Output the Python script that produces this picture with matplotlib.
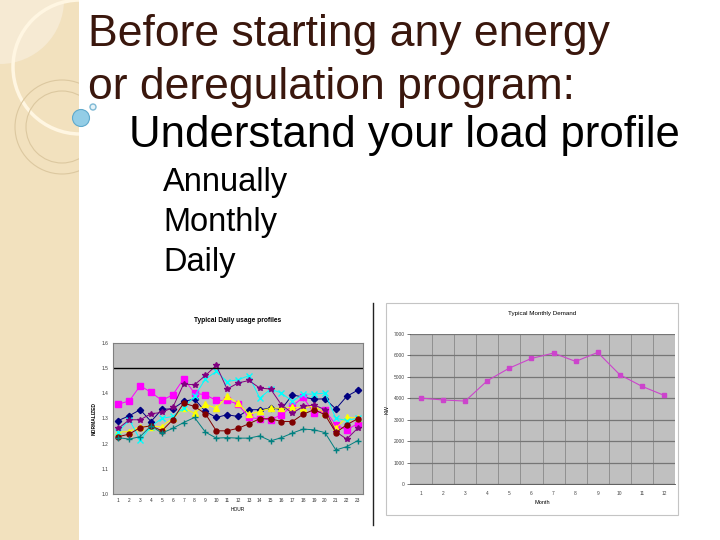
#!/usr/bin/env python3

"""Slide: load profile, with a daily usage chart and a monthly demand chart"""
import matplotlib
matplotlib.use("Agg")
from matplotlib import pyplot as plt
from matplotlib.patches import Rectangle, Circle

plt.rcParams['font.family'] = ['Liberation Sans', 'DejaVu Sans']

# daily profiles, 23 hourly points per series
hours = list(range(1, 24))
hour_labels = [str(h) for h in hours]
navy_vals = [1.292, 1.311, 1.335, 1.288, 1.337, 1.338, 1.368, 1.377, 1.328, 1.304, 1.315, 1.308,
             1.335, 1.335, 1.341, 1.337, 1.394, 1.385, 1.377, 1.378, 1.338, 1.388, 1.412]
magenta_vals = [1.357, 1.370, 1.430, 1.404, 1.372, 1.394, 1.458, 1.401, 1.394, 1.372, 1.372, 1.357,
                1.304, 1.299, 1.295, 1.315, 1.350, 1.384, 1.321, 1.332, 1.275, 1.255, 1.279]
yellow_vals = [1.246, 1.248, 1.268, 1.268, 1.268, 1.301, 1.341, 1.321, 1.357, 1.341, 1.388, 1.361,
               1.317, 1.328, 1.341, 1.341, 1.344, 1.341, 1.350, 1.321, 1.261, 1.305, 1.301]
cyan_vals = [1.248, 1.295, 1.215, 1.268, 1.301, 1.308, 1.341, 1.388, 1.457, 1.487, 1.447, 1.454,
             1.470, 1.381, 1.417, 1.401, 1.368, 1.397, 1.397, 1.401, 1.301, 1.292, 1.301]
purple_vals = [1.261, 1.295, 1.295, 1.319, 1.324, 1.344, 1.437, 1.434, 1.471, 1.511, 1.417, 1.441,
               1.451, 1.421, 1.417, 1.354, 1.321, 1.348, 1.354, 1.335, 1.248, 1.218, 1.261]
maroon_vals = [1.228, 1.238, 1.264, 1.271, 1.251, 1.295, 1.361, 1.348, 1.319, 1.251, 1.251, 1.261,
               1.279, 1.299, 1.299, 1.288, 1.288, 1.317, 1.335, 1.315, 1.244, 1.275, 1.299]
teal_vals = [1.224, 1.218, 1.228, 1.271, 1.242, 1.261, 1.284, 1.304, 1.246, 1.222, 1.224, 1.222,
             1.222, 1.231, 1.211, 1.224, 1.242, 1.258, 1.255, 1.244, 1.175, 1.188, 1.212]
daily_ticks = [1.0, 1.1, 1.2, 1.3, 1.4, 1.5, 1.6]
peak_line = 1.5

# monthly demand
months = list(range(1, 13))
demand_kw = [4010, 3920, 3870, 4820, 5410, 5860, 6110, 5720, 6140, 5100, 4560, 4140]

fig = plt.figure(figsize=(7.2, 5.4), dpi=100)

# slide background, in pixel units
bg = fig.add_axes((0, 0, 1, 1))
bg.set_xlim(0, 720)
bg.set_ylim(540, 0)
bg.axis('off')
band = Rectangle((0, 0), 79, 540, facecolor='#F2E1BE', edgecolor='none')
bg.add_patch(band)
for patch in [Circle((0, 0), 64, facecolor='#F6EAD3', edgecolor='none'),
              Circle((80, 67), 67, facecolor='none', edgecolor='#FFF6E2', lw=2.5),
              Circle((62, 127), 47, facecolor='none', edgecolor='#DCC8A0', lw=0.8),
              Circle((62, 127), 36, facecolor='none', edgecolor='#DCC8A0', lw=0.8)]:
    bg.add_patch(patch)
    patch.set_clip_path(band)
bg.add_patch(Circle((81, 118), 8.5, facecolor='#93CDE6', edgecolor='#5FA9CC', lw=0.8))
bg.add_patch(Circle((93, 107), 3, facecolor='#E4F2F8', edgecolor='#7DB8D4', lw=1))

title_col = '#3A170D'
bg.text(88, 46, "Before starting any energy", fontsize=32, color=title_col, va='baseline')
bg.text(88, 99, "or deregulation program:", fontsize=32, color=title_col, va='baseline')
bg.text(129, 147, "Understand your load profile", fontsize=31.5, color='black', va='baseline')
for i, word in enumerate(["Annually", "Monthly", "Daily"]):
    bg.text(163, 191 + 40 * i, word, fontsize=23.5, color='black', va='baseline')

# right panel frame and separator
bg.add_patch(Rectangle((386, 303), 292, 212, facecolor='white', edgecolor='#C4C4C4', lw=0.8))
bg.plot([373, 373], [303, 525], color='#222222', lw=1)

# daily chart
ax1 = fig.add_axes((113 / 720, 46 / 540, 250 / 720, 151 / 540))
ax1.set_facecolor('#C0C0C0')
series = [
    (navy_vals, '#000080', 'D', 3.2),
    (magenta_vals, '#FF00FF', 's', 4.2),
    (yellow_vals, '#FFFF00', '^', 4.0),
    (cyan_vals, '#00FFFF', 'x', 3.8),
    (purple_vals, '#800080', '*', 4.2),
    (maroon_vals, '#800000', 'o', 3.6),
    (teal_vals, '#008080', '+', 4.2),
]
for vals, col, mk, ms in series:
    ax1.plot(hours, vals, color=col, marker=mk, ms=ms, lw=0.7, mew=1.0)
ax1.axhline(peak_line, color='black', lw=1)
ax1.set_xlim(0.5, 23.5)
ax1.set_ylim(daily_ticks[0], daily_ticks[-1])
ax1.set_xticks(hours)
ax1.set_xticklabels(hour_labels)
ax1.set_yticks(daily_ticks)
ax1.set_yticklabels(["%.1f" % t for t in daily_ticks])
ax1.tick_params(labelsize=3.5, length=0, pad=3, colors='#333333')
for s in ax1.spines.values():
    s.set_color('#808080')
    s.set_linewidth(0.8)
ax1.set_title("Typical Daily usage profiles", fontsize=4.8, fontweight='bold', pad=15)
ax1.set_xlabel("HOUR", fontsize=3.5, labelpad=3)
ax1.set_ylabel("NORMALIZED", fontsize=3.5, fontweight='bold', labelpad=4)

# monthly chart
ax2 = fig.add_axes((410 / 720, 56 / 540, 265 / 720, 150 / 540))
ax2.set_facecolor('#C0C0C0')
ax2.plot(months, demand_kw, color='#CC44CC', marker='s', ms=2.4, lw=0.8)
ax2.set_xlim(0.5, 12.5)
ax2.set_ylim(0, 7000)
ax2.set_xticks(months)
ax2.set_xticks([m + 0.5 for m in months[:-1]], minor=True)
ax2.set_yticks(range(0, 7001, 1000))
ax2.grid(axis='y', which='major', color='#767676', lw=0.9)
ax2.grid(axis='x', which='minor', color='#888888', lw=0.6)
ax2.set_axisbelow(True)
ax2.tick_params(labelsize=3.5, length=2, width=0.5, pad=2, colors='#444444')
ax2.tick_params(which='minor', length=0)
ax2.tick_params(axis='x', length=0, pad=5)
for s in ax2.spines.values():
    s.set_visible(False)
ax2.spines['bottom'].set_visible(True)
ax2.spines['bottom'].set_color('#444444')
ax2.spines['bottom'].set_linewidth(0.6)
ax2.set_title("Typical Monthly Demand", fontsize=4.5, pad=14)
ax2.set_xlabel("Month", fontsize=4, labelpad=3)
ax2.set_ylabel("KW", fontsize=4, labelpad=3)

fig.savefig("out.png", dpi=100)
